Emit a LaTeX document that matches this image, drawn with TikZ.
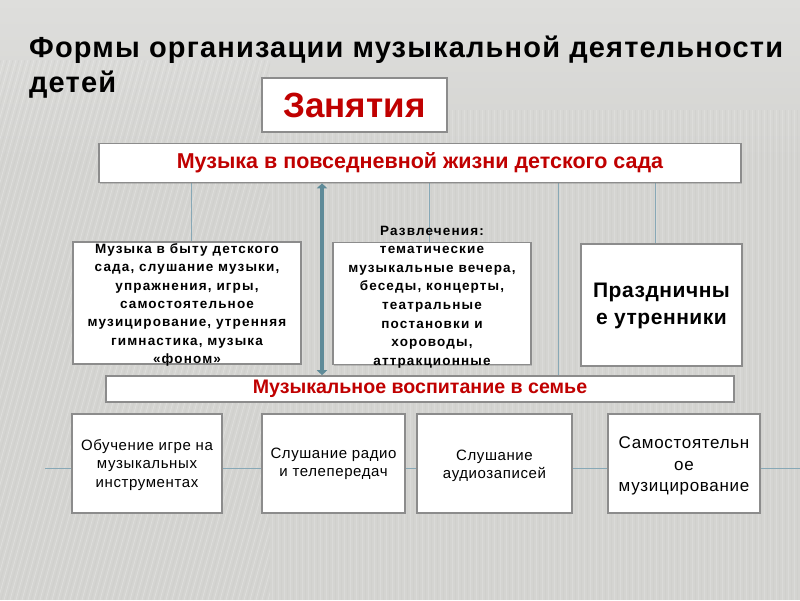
\documentclass[tikz,border=0pt]{standalone}
\usepackage{fontspec}
\setmainfont{Liberation Sans}
\newfontfamily\titlefont[LetterSpace=4]{Liberation Sans}
\newfontfamily\midfont[LetterSpace=8.5]{Liberation Sans}
\newfontfamily\botfont[LetterSpace=4]{Liberation Sans}
\newfontfamily\prazfont[LetterSpace=2.5]{Liberation Sans}
\usetikzlibrary{arrows.meta,shadows}
\pgfdeclarelayer{back}
\pgfdeclarelayer{mid}
\pgfsetlayers{back,mid,main}
\definecolor{bg}{RGB}{212,212,209}
\definecolor{bgtop}{RGB}{222,222,220}
\definecolor{bgd}{RGB}{196,196,193}
\definecolor{dred}{RGB}{192,0,0}
\definecolor{bord}{RGB}{140,140,140}
\definecolor{connc}{RGB}{135,168,182}
\definecolor{arrc}{RGB}{94,138,152}
\begin{document}
\begin{tikzpicture}[x=1pt,y=-1pt,
  box/.style={draw=bord, line width=1.6pt, fill=white, inner sep=0pt,
    drop shadow={shadow xshift=1.2pt, shadow yshift=-1.2pt, opacity=0.35}},
  conn/.style={draw=connc, line width=0.8pt},
  dblarrow/.style={draw=arrc, line width=3.5pt,
    {Triangle[width=10pt,length=5pt]}-{Triangle[width=10pt,length=5pt]}},
  txt/.style={align=center, inner sep=0pt},
  redtxt/.style={align=center, inner sep=0pt, text=dred, font=\bfseries},
]
\useasboundingbox (0,0) rectangle (800,600);
\begin{pgfonlayer}{back}
  \fill[bg] (0,0) rectangle (800,600);
  \shade[top color=bgtop, bottom color=bg] (0,0) rectangle (800,160);
  \begin{scope}
    \clip (0,60) rectangle (270,600);
    \foreach \i in {-200,-194,...,300} {
      \draw[white, opacity=0.25, line width=0.7pt] (\i,600) -- (\i+150,60);
      \draw[bgd, opacity=0.3, line width=0.7pt] (\i+3,600) -- (\i+153,60);
    }
  \end{scope}
  \begin{scope}
    \clip (270,110) rectangle (800,600);
    \foreach \i in {272,278,...,800} {
      \draw[white, opacity=0.16, line width=0.8pt] (\i,110) -- (\i,600);
      \draw[bgd, opacity=0.22, line width=0.8pt] (\i+3,110) -- (\i+3,600);
    }
  \end{scope}
\end{pgfonlayer}

% title
\node[anchor=base west, align=left, inner sep=0pt,
      font=\titlefont\bfseries\fontsize{29}{35}\selectfont] (title) at (29,92)
  {Формы организации музыкальной деятельности\\детей};

% top boxes
\node[box, minimum width=185pt, minimum height=54pt] (zan) at (354.5,105) {};
\node[redtxt, font=\bfseries\fontsize{35}{40}\selectfont] (zant) at (zan.center) {Занятия};

\node[box, minimum width=642pt, minimum height=39pt] (daily) at (420,163) {};
\node[redtxt, font=\bfseries\fontsize{21.5}{24}\selectfont] (dailyt) at (daily.center) {Музыка в повседневной жизни детского сада};

% middle row
\node[box, minimum width=228pt, minimum height=122pt] (m1) at (187,303) {};
\node[txt, font=\midfont\bfseries\fontsize{13.5}{18.4}\selectfont] (m1t) at (187,305)
  {Музыка в быту детского\\сада, слушание музыки,\\упражнения, игры,\\самостоятельное\\музицирование, утренняя\\гимнастика, музыка\\«фоном»};

\node[box, minimum width=198pt, minimum height=122pt] (m2) at (432,303.5) {};
\node[txt, font=\midfont\bfseries\fontsize{13.5}{18.6}\selectfont] (m2t) at (432,297)
  {Развлечения:\\тематические\\музыкальные вечера,\\беседы, концерты,\\театральные\\постановки и\\хороводы,\\аттракционные};

\node[box, minimum width=161pt, minimum height=122pt] (m3) at (661.5,305) {};
\node[txt, font=\prazfont\bfseries\fontsize{21}{27}\selectfont] (m3t) at (661.5,306)
  {Праздничны\\е утренники};

% family
\node[box, minimum width=628pt, minimum height=26pt] (fam) at (420,389) {};
\node[redtxt, font=\bfseries\fontsize{19.6}{22}\selectfont] (famt) at (fam.center) {Музыкальное воспитание в семье};

% bottom row
\node[box, minimum width=150pt, minimum height=99pt] (f1) at (147,463.5) {};
\node[txt, font=\botfont\fontsize{15}{18.3}\selectfont] (f1t) at (147,465)
  {Обучение игре на\\музыкальных\\инструментах};
\node[box, minimum width=143pt, minimum height=99pt] (f2) at (333.5,463.5) {};
\node[txt, font=\botfont\fontsize{15}{18.3}\selectfont] (f2t) at (333.5,464)
  {Слушание радио\\и телепередач};
\node[box, minimum width=155pt, minimum height=99pt] (f3) at (494.5,463.5) {};
\node[txt, font=\botfont\fontsize{15}{18.3}\selectfont] (f3t) at (494.5,466)
  {Слушание\\аудиозаписей};
\node[box, minimum width=152pt, minimum height=99pt] (f4) at (684,463.5) {};
\node[txt, font=\botfont\fontsize{17}{21.7}\selectfont] (f4t) at (684,466)
  {Самостоятельн\\ое\\музицирование};

% connectors
\coordinate (hl) at (45,468);
\coordinate (hr) at (800,468);
\begin{pgfonlayer}{mid}
  \draw[conn] (hl) -- (hr);
  \draw[conn] ([xshift=4pt]m1.north |- daily.south) -- ([xshift=4pt]m1.north);
  \draw[conn] ([xshift=-2.5pt]m2.north |- daily.south) -- ([xshift=-2.5pt]m2.north);
  \draw[conn] (558,0 |- daily.south) -- (558,0 |- fam.north);
  \draw[conn] ([xshift=-6.5pt]m3.north |- daily.south) -- ([xshift=-6.5pt]m3.north);
\end{pgfonlayer}
\draw[dblarrow] (322,0 |- daily.south) -- (322,0 |- fam.north);
\end{tikzpicture}
\end{document}
